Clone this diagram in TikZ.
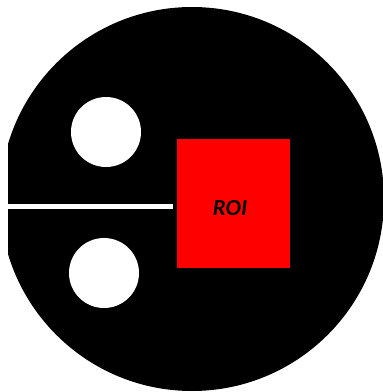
\documentclass[tikz,border=0pt]{standalone}
\usepackage{fontspec}
\setmainfont{Carlito}
\begin{document}
\begin{tikzpicture}[x=1pt,y=-1pt,
  hole/.style={circle, fill=white, minimum size=70pt, inner sep=0pt},
  roibox/.style={rectangle, fill=red, minimum width=113pt, minimum height=129pt, inner sep=0pt},
  roitext/.style={font=\fontsize{23pt}{27pt}\selectfont\bfseries\itshape, text=black, inner sep=0pt}]
\useasboundingbox (0,0) rectangle (383,392);
\fill[white] (0,0) rectangle (383,392);
\begin{scope}
  \clip (8,0) rectangle (383,392);
  \fill[black] (192,199) circle (192pt);
\end{scope}
\node[hole] (h1) at (106,132) {};
\node[hole] (h2) at (104,273) {};
\node[roibox] (roi) at (233.5,203.5) {};
\node[roitext] (roilabel) at (230,208) {ROI};
\coordinate (lstart) at (8,206.5);
\draw[white, line width=5pt] (lstart) -- ([xshift=-4pt]lstart -| roi.west);
\end{tikzpicture}
\end{document}
